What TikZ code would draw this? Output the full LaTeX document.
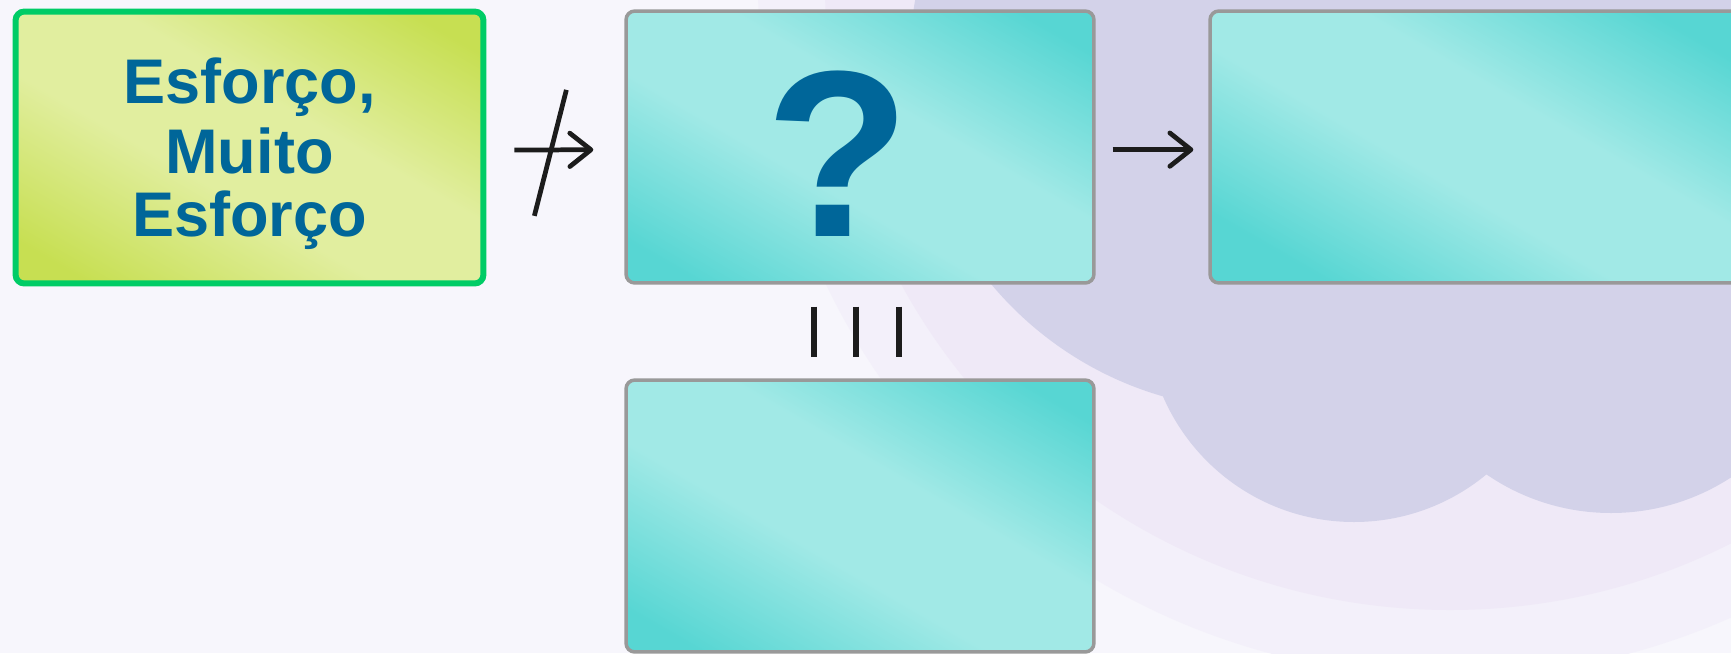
\documentclass[tikz,border=0pt]{standalone}
\usepackage{fontspec}
\setmainfont{Liberation Sans}
\usetikzlibrary{arrows.meta}
\definecolor{bgbase}{HTML}{F7F6FC}
\definecolor{bgring}{HTML}{F3F0FA}
\definecolor{bglav}{HTML}{EFE9F7}
\definecolor{bgdark}{HTML}{D3D2E9}
\definecolor{greendark}{HTML}{C7DF52}
\definecolor{greenlight}{HTML}{E1EE9F}
\definecolor{greenrim}{HTML}{00CC66}
\definecolor{tealdark}{HTML}{57D6D3}
\definecolor{teallight}{HTML}{A1E9E6}
\definecolor{rimgray}{HTML}{999999}
\definecolor{textblue}{HTML}{006699}
\definecolor{ink}{HTML}{1C1C1C}
\pgfdeclareverticalshading{tealwash}{100bp}{color(0bp)=(tealdark); color(31bp)=(tealdark);
  color(45bp)=(teallight); color(55bp)=(teallight); color(69bp)=(tealdark); color(100bp)=(tealdark)}
\pgfdeclareverticalshading{greenwash}{100bp}{color(0bp)=(greendark); color(31bp)=(greendark);
  color(45bp)=(greenlight); color(55bp)=(greenlight); color(69bp)=(greendark); color(100bp)=(greendark)}
\tikzset{
  card/.style={rectangle, rounded corners=5pt, inner sep=0pt,
    minimum width=9.36cm, minimum height=5.44cm,
    path picture={
      \begin{scope}[transform canvas={rotate around={-30:(path picture bounding box.center)}}]
        \shade[shading=#1] ([shift={(-320,-260)}]path picture bounding box.center)
          rectangle ([shift={(320,260)}]path picture bounding box.center);
      \end{scope}}},
  greencard/.style={card=greenwash, draw=greenrim, line width=3.4pt,
    text=textblue, align=center, text depth=-7pt,
    font=\bfseries\fontsize{35.9}{39.6}\selectfont},
  tealcard/.style={card=tealwash, draw=rimgray, line width=2pt},
  arr/.style={ink, line width=2.7pt, -{Straight Barb[length=12pt,width=19pt,round]}},
  strike/.style={ink, line width=2.7pt},
  eqbar/.style={ink, line width=3.4pt}
}
\begin{document}
\begin{tikzpicture}[x=0.02cm,y=-0.02cm]
  \useasboundingbox (0,0) rectangle (1731,653);
  \clip (0,0) rectangle (1731,653);
  % background
  \fill[bgbase] (0,0) rectangle (1731,653);
  \fill[bgring] (1450,-15) circle (692);
  \fill[bglav] (1450,-15) circle (625);
  \fill[bgdark] (1260,60) circle (350) (1354,314) circle (208)
    (1611,293) circle (220) (1600,100) circle (300);
  % boxes
  \node[greencard] (effort) at (249.5,147.5) {Esforço,\\Muito\\[-3.4pt]Esforço};
  \node[tealcard] (unknown) at (860,147) {};
  \node[text=textblue, inner sep=0pt, font=\bfseries\fontsize{135}{135}\selectfont] (qmark) at (838,154) {?};
  \node[tealcard, minimum width=11.2cm] (result) at (1490,147) {};
  \node[tealcard] (same) at (860,516) {};
  % arrows
  \draw[arr, shorten <=0.56cm, shorten >=0.62cm] ([yshift=-1.5pt]effort.east)
    -- coordinate[pos=.5] (cross) ([yshift=-1.5pt]unknown.west);
  \draw[strike] ([shift={(11,-60)}]cross) -- ([shift={(-21,66)}]cross);
  \draw[arr, shorten <=0.34cm, shorten >=0.30cm] ([yshift=-1.5pt]unknown.east) -- ([yshift=-1.5pt]result.west);
  \foreach \dx in {-46,-4,39}
    \draw[eqbar] ([shift={(\dx,22)}]unknown.south) -- ([shift={(\dx,72)}]unknown.south);
\end{tikzpicture}
\end{document}
